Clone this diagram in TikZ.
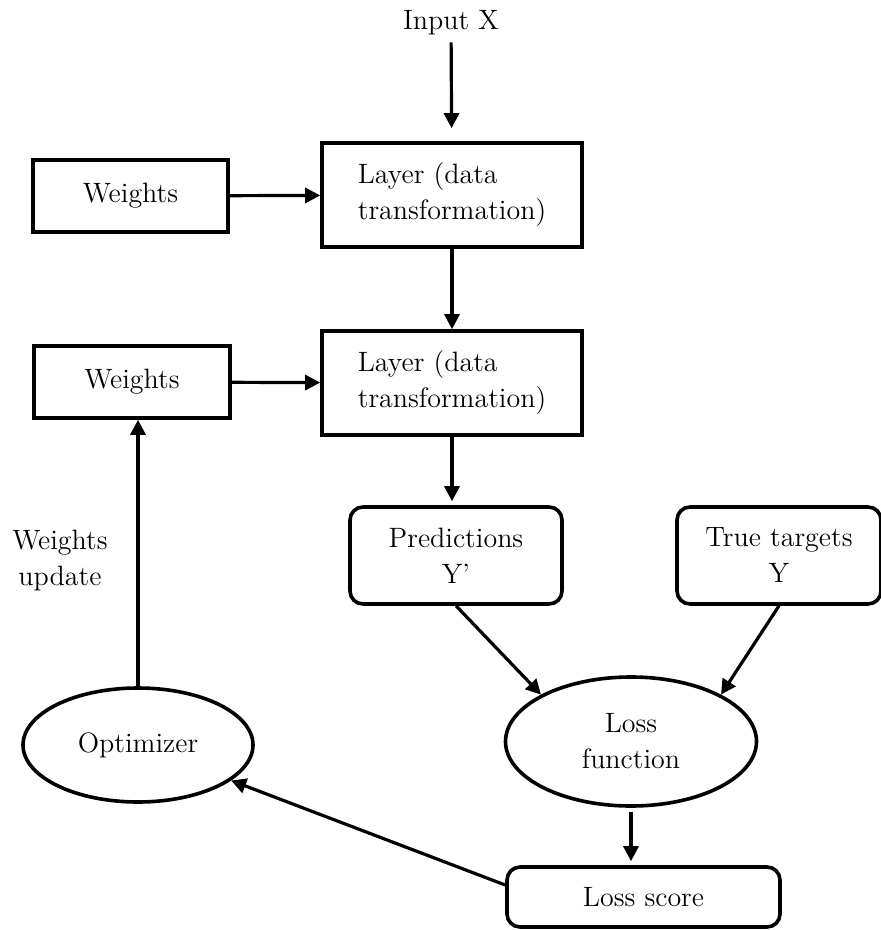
\documentclass[tikz,border=0pt]{standalone}
\usetikzlibrary{shapes.geometric, arrows.meta, positioning}

\tikzset{
    % Box styles
    layer/.style={
        rectangle,
        draw=black,
        line width=1.8pt,
        minimum width=130pt,
        minimum height=52pt,
        inner sep=0pt,
        align=left
    },
    weightbox/.style={
        rectangle,
        draw=black,
        line width=1.8pt,
        minimum width=98pt,
        minimum height=36pt,
        inner sep=0pt,
        align=center
    },
    roundbox/.style={
        rectangle,
        rounded corners=6.5pt,
        draw=black,
        line width=1.8pt,
        inner sep=0pt,
        align=center
    },
    oval/.style={
        ellipse,
        draw=black,
        line width=1.8pt,
        inner sep=0pt,
        align=center
    },
    % Arrow styles
    arrow/.style={
        -{Triangle[length=7.5pt,width=7.5pt]},
        line width=1.6pt,
        draw=black
    }
}

\begin{document}
\begin{tikzpicture}[x=0.5pt, y=-0.5pt, font=\fontsize{14}{18}\selectfont]
    \useasboundingbox (0,0) rectangle (881,930);

    \node (inp) at (451,23) {Input X};
    \node[layer] (l1) at (452,195) {Layer (data\\transformation)};
    \node[layer] (l2) at (452,383) {Layer (data\\transformation)};
    \node[weightbox, minimum width=97.5pt] (w1) at (130.5,196) {Weights};
    \node[weightbox] (w2) at (132,382) {Weights};

    \node[roundbox, minimum width=106pt, minimum height=48.5pt] (pred) at (456,555.5) {Predictions\\Y’};
    \node[roundbox, minimum width=102pt, minimum height=48.5pt] (truth) at (779,555.5) {True targets\\Y};
    \node[oval, minimum width=125.5pt, minimum height=64.5pt] (loss) at (631,741.5) {Loss\\function};
    \node[roundbox, minimum width=136.5pt, minimum height=30pt] (score) at (643.5,897) {Loss score};
    \node[oval, minimum width=115pt, minimum height=57pt] (opt) at (138,745) {Optimizer};
    \node[align=center] (upd) at (60,560) {Weights\\update};

    \draw[arrow, shorten >=6.5pt] (inp) -- (l1);
    \draw[arrow] (w1) -- (l1);
    \draw[arrow] (l1) -- (l2);
    \draw[arrow] (w2) -- (l2);
    \draw[arrow, shorten >=2pt] (l2.south) -- (l2.south |- pred.north);
    \draw[arrow] (pred.south) -- (loss.north west);
    \draw[arrow] (truth.south) -- (loss.north east);
    \draw[arrow, shorten <=2pt, shorten >=2pt] (loss.south) -- (loss.south |- score.north);
    \draw[arrow] ([yshift=6pt]score.west) -- (opt);
    \draw[arrow] (opt.north) -- (opt.north |- w2.south);
\end{tikzpicture}
\end{document}
